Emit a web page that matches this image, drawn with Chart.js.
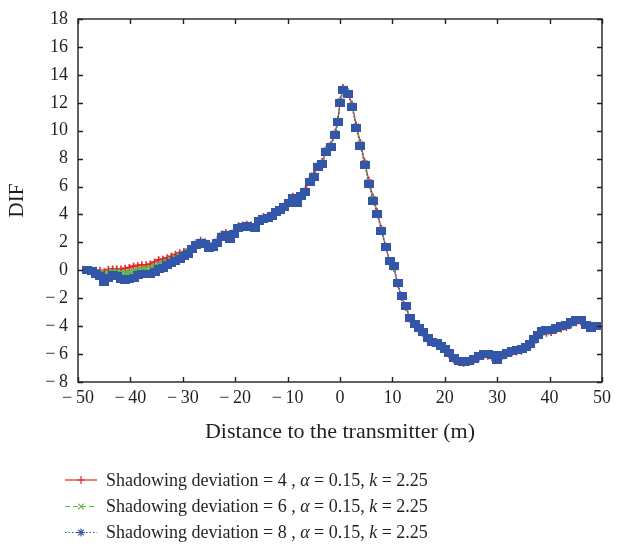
<!DOCTYPE html>
<html><head><meta charset="utf-8">
<script src="https://cdn.jsdelivr.net/npm/chart.js@4.4.1/dist/chart.umd.min.js"></script>
<style>html,body{margin:0;padding:0;background:#fff}#wrap{width:617px;height:546px;position:relative}</style>
</head><body><div id="wrap"><canvas id="c" width="617" height="546"></canvas></div>
<script>
// distance to the transmitter (m)
const distances = [
 -48.2,-47.4,-46.6,-45.8,-45.0,-44.2,-43.4,-42.6,-41.8,-41.0,
 -40.2,-39.4,-38.6,-37.8,-37.0,-36.2,-35.4,-34.6,-33.8,-33.0,
 -32.2,-31.4,-30.6,-29.8,-29.0,-28.2,-27.4,-26.6,-25.8,-25.0,
 -24.2,-23.4,-22.6,-21.8,-21.0,-20.2,-19.4,-18.6,-17.8,-17.0,
 -16.2,-15.4,-14.6,-13.8,-13.0,-12.2,-11.4,-10.6,-9.8,-9.0,
 -8.2,-7.4,-6.6,-5.8,-5.0,-4.2,-3.4,-2.6,-1.8,-0.9,
 -0.4,0.05,0.6,1.5,2.3,3.1,3.9,4.7,5.5,6.3,
 7.1,7.9,8.7,9.5,10.3,11.0,11.75,12.55,13.4,14.25,
 15.1,15.9,16.7,17.6,18.5,19.25,20.0,20.8,21.7,22.65,
 23.6,24.6,25.5,26.5,27.4,28.2,29.0,29.9,30.9,31.8,
 32.8,33.7,34.65,35.5,36.2,37.0,37.8,38.5,39.4,40.3,
 41.3,42.2,43.2,44.1,45.1,46.0,47.0,47.9,48.9
];
// DIF, shadowing deviation = 4
const dev4 = [
 0.05,0.0,0.0,0.0,-0.1,0.05,0.1,0.1,0.1,0.15,
 0.2,0.3,0.35,0.4,0.4,0.45,0.6,0.75,0.8,0.9,
 1.0,1.15,1.25,1.35,1.5,1.75,2.0,2.15,2.05,1.85,
 1.95,2.2,2.6,2.7,2.5,2.8,3.2,3.25,3.3,3.25,
 3.2,3.65,3.85,3.9,4.05,4.3,4.45,4.65,4.95,5.3,
 5.0,5.45,5.8,6.5,6.9,7.6,7.8,8.7,9.0,9.9,
 10.8,12.2,13.1,12.8,11.9,10.4,9.15,7.8,6.45,5.25,
 4.2,3.0,1.75,0.6,0.15,-1.0,-1.95,-2.65,-3.5,-3.95,
 -4.25,-4.55,-4.95,-5.2,-5.35,-5.55,-5.8,-6.05,-6.4,-6.6,
 -6.65,-6.6,-6.5,-6.3,-6.15,-6.15,-6.25,-6.45,-6.2,-6.05,
 -5.9,-5.85,-5.8,-5.65,-5.45,-5.15,-4.8,-4.55,-4.5,-4.45,
 -4.3,-4.2,-4.1,-3.9,-3.75,-3.7,-3.95,-4.1,-3.95
];
// DIF, shadowing deviation = 6
const dev6 = [
 0.0,-0.05,-0.15,-0.2,-0.3,-0.2,-0.1,-0.1,-0.2,-0.2,
 -0.15,-0.05,0.0,0.05,0.1,0.15,0.25,0.4,0.5,0.6,
 0.75,0.9,1.0,1.15,1.35,1.6,1.9,2.05,1.95,1.7,
 1.8,2.05,2.5,2.6,2.35,2.7,3.1,3.15,3.2,3.15,
 3.1,3.55,3.75,3.8,3.95,4.2,4.35,4.55,4.85,5.2,
 4.9,5.35,5.7,6.4,6.8,7.5,7.7,8.6,8.9,9.8,
 10.7,12.1,13.0,12.7,11.8,10.3,9.0,7.65,6.3,5.1,
 4.1,2.9,1.7,0.65,0.2,-0.95,-1.9,-2.6,-3.45,-3.9,
 -4.2,-4.5,-4.9,-5.15,-5.25,-5.45,-5.7,-5.95,-6.3,-6.55,
 -6.6,-6.55,-6.4,-6.2,-6.05,-6.05,-6.15,-6.4,-6.15,-5.95,
 -5.8,-5.75,-5.7,-5.55,-5.35,-5.05,-4.7,-4.45,-4.4,-4.35,
 -4.2,-4.1,-4.0,-3.8,-3.65,-3.6,-3.9,-4.1,-4.0
];
// DIF, shadowing deviation = 8
const dev8 = [
 0.0,-0.05,-0.3,-0.4,-0.85,-0.55,-0.35,-0.4,-0.6,-0.7,
 -0.6,-0.55,-0.35,-0.3,-0.3,-0.25,-0.1,0.1,0.2,0.35,
 0.5,0.65,0.8,1.0,1.2,1.5,1.8,1.95,1.85,1.6,
 1.7,1.95,2.4,2.5,2.25,2.6,3.05,3.1,3.15,3.1,
 3.0,3.5,3.7,3.75,3.9,4.15,4.3,4.5,4.8,5.15,
 4.85,5.3,5.6,6.3,6.7,7.4,7.6,8.5,8.8,9.7,
 10.6,12.0,12.9,12.6,11.7,10.2,8.9,7.55,6.2,5.0,
 4.0,2.85,1.7,0.7,0.3,-0.9,-1.85,-2.55,-3.4,-3.85,
 -4.15,-4.45,-4.85,-5.1,-5.2,-5.4,-5.65,-5.9,-6.25,-6.5,
 -6.6,-6.5,-6.35,-6.15,-6.0,-6.0,-6.1,-6.4,-6.1,-5.9,
 -5.75,-5.7,-5.65,-5.5,-5.3,-4.95,-4.6,-4.35,-4.3,-4.25,
 -4.1,-4.0,-3.9,-3.7,-3.55,-3.55,-3.9,-4.1,-4.0
];
const xTicks = [-50,-40,-30,-20,-10,0,10,20,30,40,50];
const yTicks = [-8,-6,-4,-2,0,2,4,6,8,10,12,14,16,18];
const seriesDeviation = ['4','6','8'];
const xTitle = 'Distance to the transmitter (m)';
const yTitle = 'DIF';

const SERIF = "'Liberation Serif','Times New Roman',serif";
const INK = '#231f20';
const RED = '#e4262b', GREEN = '#5cb847', BLUE = '#3456a8';

function squareMarker(w, h, color) {
  const c = document.createElement('canvas');
  c.width = w; c.height = h;
  const g = c.getContext('2d');
  g.fillStyle = color; g.fillRect(0, 0, w, h);
  return c;
}
const toPts = ys => distances.map((x, i) => ({x, y: ys[i]}));
const fmt = v => v < 0 ? '\u2212\u2009' + Math.abs(v) : String(v);

const frame = {
  id: 'frame',
  afterDatasetsDraw(chart) {
    const {ctx, chartArea: {left, right, top, bottom}, scales: {x, y}} = chart;
    ctx.save();
    ctx.strokeStyle = INK; ctx.lineWidth = 1.4;
    ctx.strokeRect(left, top, right - left, bottom - top);
    ctx.beginPath();
    xTicks.forEach(v => { const p = Math.round(x.getPixelForValue(v)) + 0.5;
      ctx.moveTo(p, bottom); ctx.lineTo(p, bottom - 5); ctx.moveTo(p, top); ctx.lineTo(p, top + 5); });
    yTicks.forEach(v => { const p = Math.round(y.getPixelForValue(v)) + 0.5;
      ctx.moveTo(left, p); ctx.lineTo(left + 5, p); ctx.moveTo(right, p); ctx.lineTo(right - 5, p); });
    ctx.stroke();
    ctx.restore();
  }
};

const legend = {
  id: 'customLegend',
  afterDraw(chart) {
    const ctx = chart.ctx;
    const ds = chart.data.datasets;
    const rowY = [480, 506.5, 532.5];
    ctx.save();
    ds.forEach((d, i) => {
      const y = rowY[i];
      ctx.strokeStyle = d.borderColor; ctx.lineWidth = 1.2;
      ctx.setLineDash(d.borderDash || []);
      ctx.beginPath(); ctx.moveTo(65, y); ctx.lineTo(97, y); ctx.stroke();
      ctx.setLineDash([]);
      Chart.helpers.drawPoint(ctx, {pointStyle: d.legendMarker, radius: 4, borderWidth: 1.6,
        rotation: 0}, 81, y);
      const parts = [
        ['Shadowing deviation = ' + seriesDeviation[i] + ' , ', false],
        ['\u03b1', true], [' = 0.15, ', false], ['k', true], [' = 2.25', false]];
      let x = 106;
      ctx.fillStyle = INK; ctx.textBaseline = 'alphabetic'; ctx.textAlign = 'left';
      parts.forEach(([t, it]) => {
        ctx.font = (it ? 'italic ' : '') + '18px ' + SERIF;
        ctx.fillText(t, x, y + 5.5);
        x += ctx.measureText(t).width;
      });
    });
    ctx.restore();
  }
};

const ctx = document.getElementById('c').getContext('2d');
new Chart(ctx, {
  type: 'line',
  data: {
    datasets: [
      {label: 'dev4', data: toPts(dev4), borderColor: RED, backgroundColor: RED, borderWidth: 1.2,
       pointStyle: 'cross', pointRadius: 3.5, pointBorderWidth: 1.6, order: 2, legendMarker: 'cross'},
      {label: 'dev6', data: toPts(dev6), borderColor: GREEN, backgroundColor: GREEN, borderWidth: 1.2,
       borderDash: [5, 3], pointStyle: 'crossRot', pointRadius: 4, pointBorderWidth: 2, order: 1, legendMarker: 'crossRot'},
      {label: 'dev8', data: toPts(dev8), borderColor: BLUE, backgroundColor: BLUE, borderWidth: 1.2,
       borderDash: [1.5, 2], pointStyle: squareMarker(10, 8, BLUE), pointRadius: 5, order: 0, legendMarker: 'star'}
    ]
  },
  options: {
    responsive: false,
    animation: false,
    layout: {padding: {left: 0, right: 11, top: 11, bottom: 100}},
    plugins: {legend: {display: false}, tooltip: {enabled: false}},
    elements: {line: {tension: 0}},
    scales: {
      x: {
        type: 'linear', min: -50, max: 50,
        afterBuildTicks: s => { s.ticks = xTicks.map(v => ({value: v})); },
        afterFit: s => { s.height = 64; },
        grid: {display: false, drawTicks: false},
        border: {display: false},
        ticks: {color: INK, padding: 6, font: {family: SERIF, size: 18, lineHeight: 1.1}, maxRotation: 0, callback: v => fmt(v)},
        title: {display: true, text: xTitle, color: INK, font: {family: SERIF, size: 22}, padding: {top: 0, bottom: 1}}
      },
      y: {
        type: 'linear', min: -8, max: 18,
        afterBuildTicks: s => { s.ticks = yTicks.map(v => ({value: v})); },
        afterFit: s => { s.width = 78; },
        grid: {display: false, drawTicks: false},
        border: {display: false},
        ticks: {color: INK, padding: 10, font: {family: SERIF, size: 18, lineHeight: 1}, callback: v => fmt(v)},
        title: {display: true, text: yTitle, color: INK, font: {family: SERIF, size: 21}, padding: {top: 5, bottom: 0}}
      }
    }
  },
  plugins: [frame, legend]
});
</script>
</body></html>
